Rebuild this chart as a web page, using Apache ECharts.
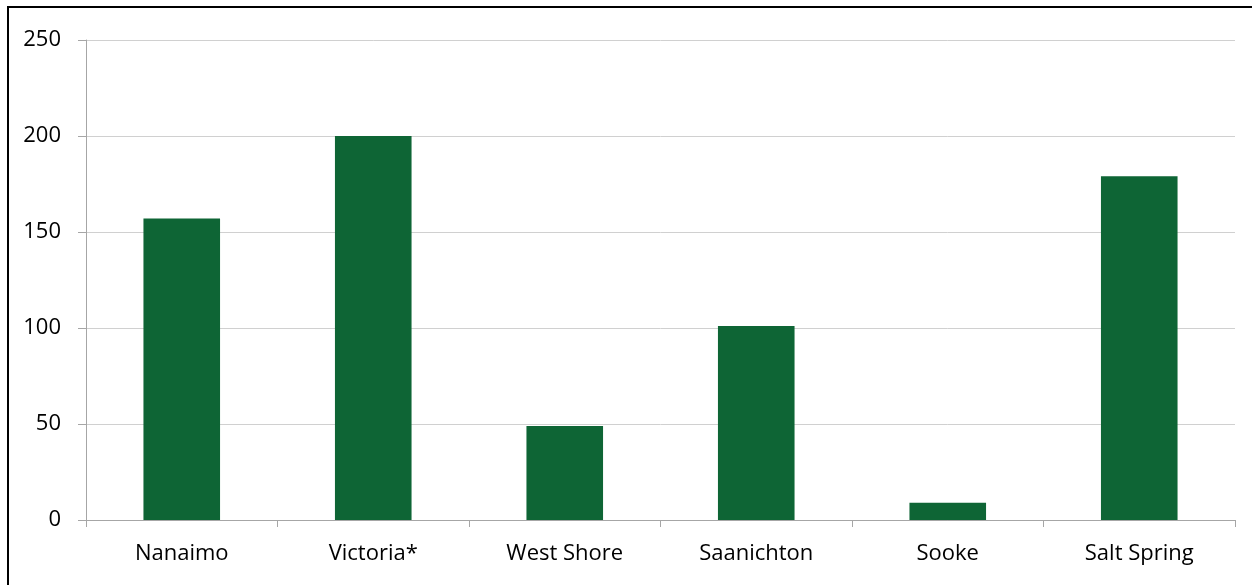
<!DOCTYPE html>
<html>
<head>
<meta charset="utf-8">
<script src="https://cdn.jsdelivr.net/npm/echarts@6/dist/echarts.min.js"></script>
<style>
html,body{margin:0;padding:0;background:#fff;}
#chart{width:1252px;height:585px;}
</style>
</head>
<body>
<div id="chart"></div>
<script>
const categories = ["Nanaimo", "Victoria*", "West Shore", "Saanichton", "Sooke", "Salt Spring"];
const values = [157, 200, 49, 101, 9, 179];
const yTicks = [0, 50, 100, 150, 200, 250];

const chart = echarts.init(document.getElementById('chart'), null, {renderer: 'canvas'});
const font = "Open Sans, Liberation Sans, sans-serif";
chart.setOption({
  animation: false,
  backgroundColor: '#fff',
  grid: {left: 86, right: 17, top: 40, bottom: 65, containLabel: false},
  graphic: [{
    type: 'rect', shape: {x: 8, y: 7, width: 1260, height: 600},
    style: {fill: 'none', stroke: '#000', lineWidth: 2}, silent: true, z: 100
  }],
  xAxis: {
    type: 'category', data: categories,
    axisLine: {show: true, lineStyle: {color: '#a6a6a6', width: 1}},
    axisTick: {show: true, length: 7, lineStyle: {color: '#a6a6a6'}},
    axisLabel: {color: '#000', fontSize: 22, fontFamily: font, margin: 23}
  },
  yAxis: {
    type: 'value', min: yTicks[0], max: yTicks[yTicks.length - 1], interval: 50,
    axisLine: {show: true, lineStyle: {color: '#a6a6a6', width: 1}},
    axisTick: {show: true, length: 8, lineStyle: {color: '#a6a6a6'}},
    splitLine: {show: true, lineStyle: {color: '#d0d0d0', width: 1}},
    axisLabel: {color: '#000', fontSize: 22, fontFamily: font, margin: 25}
  },
  series: [{
    type: 'bar', data: values, barWidth: '40%',
    itemStyle: {color: '#0e6535'}
  }]
});
</script>
</body>
</html>
